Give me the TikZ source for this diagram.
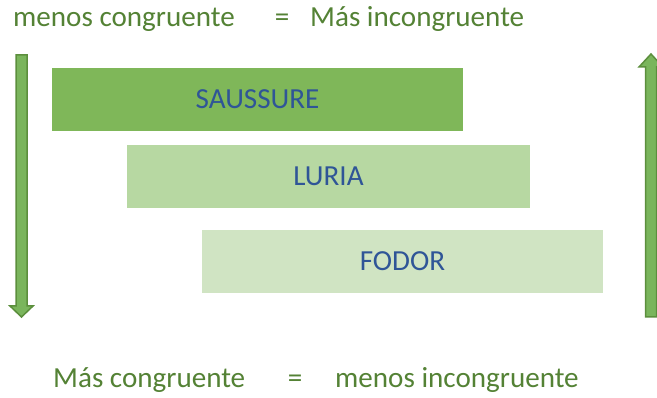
\documentclass[tikz,border=0pt]{standalone}
\usepackage{fontspec}
\setmainfont{Carlito}
\usetikzlibrary{calc}

\definecolor{labelgreen}{HTML}{548235}
\definecolor{namesblue}{HTML}{2F5597}
\definecolor{boxdark}{HTML}{7FB759}
\definecolor{boxmid}{HTML}{B7D8A2}
\definecolor{boxlight}{HTML}{D0E4C3}
\definecolor{arrowfill}{HTML}{7AB55C}
\definecolor{arrowline}{HTML}{5C8F3D}

\tikzset{
  linetext/.style={anchor=base west,inner sep=0pt,text=labelgreen,font=\fontsize{29.1}{34}\selectfont},
  eqsign/.style={anchor=base,inner sep=0pt,text=labelgreen,font=\fontsize{29.1}{34}\selectfont},
  barlabel/.style={inner sep=0pt,text=namesblue,font=\fontsize{29.1}{34}\selectfont},
  blockarrow/.style={fill=arrowfill,draw=arrowline,line width=1.5pt,line join=miter}
}

\begin{document}
\begin{tikzpicture}[x=1pt,y=-1pt]
\useasboundingbox (0,0) rectangle (657,398);
% top line
\node[linetext] (lesscong) at (13,27) {menos congruente};
\node[eqsign] (topeq) at (282,27) {=};
\node[linetext] (moreincong) at (310,27) {Más incongruente};
% the three bars
\fill[boxdark] (52,68) rectangle (463,131);
\node[barlabel] (saussure) at (257.5,99.5) {SAUSSURE};
\fill[boxmid] (127,145) rectangle (530,208);
\node[barlabel] (luria) at (328.5,176.5) {LURIA};
\fill[boxlight] (202,230) rectangle (603,293);
\node[barlabel] (fodor) at (402.5,261.5) {FODOR};
% side arrows
\draw[blockarrow] (16,55) -- (27,55) -- (27,306) -- (33,306) -- (21.5,317)
  -- (10,306) -- (16,306) -- cycle;
\draw[blockarrow] (645.5,317) -- (656.5,317) -- (656.5,67) -- (663,67) -- (651,54)
  -- (639,67) -- (645.5,67) -- cycle;
% bottom line
\node[linetext] (morecong) at (53,388) {Más congruente};
\node[eqsign] (boteq) at (295,388) {=};
\node[linetext] (lessincong) at (335,388) {menos incongruente};
\end{tikzpicture}
\end{document}
